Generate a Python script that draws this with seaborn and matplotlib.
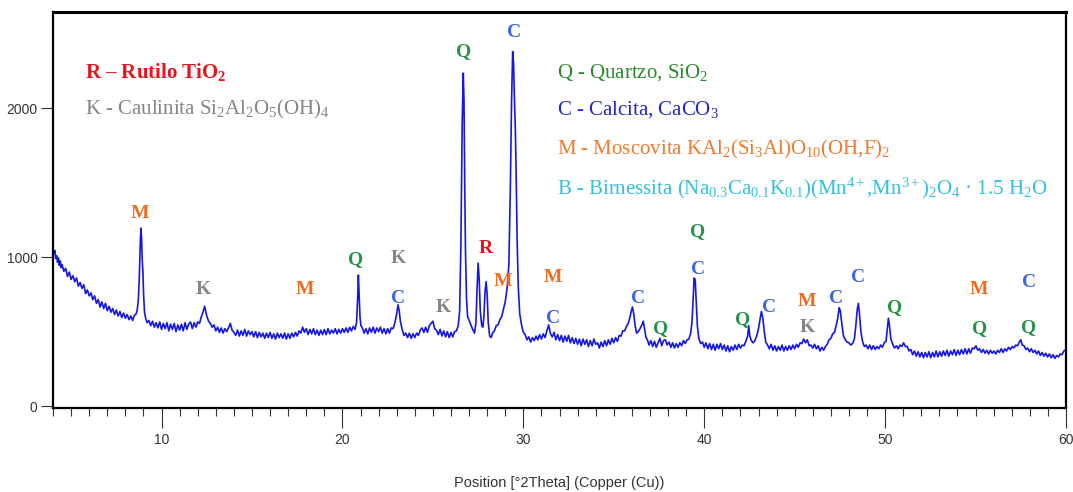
import numpy as np
import pandas as pd
import matplotlib
matplotlib.use("Agg")
import matplotlib.pyplot as plt
import seaborn as sns
from matplotlib.ticker import MultipleLocator, FixedLocator

# ---------------- data (2theta, counts) ----------------
scan_low_angle = [
    (4.0, 1060), (4.05, 1025), (4.1, 1045), (4.15, 990), (4.2, 1010), (4.25, 965), (4.3, 995),
    (4.35, 945), (4.4, 975), (4.45, 930), (4.5, 950), (4.6, 905), (4.7, 925), (4.8, 870),
    (4.9, 900), (5.0, 850), (5.1, 875), (5.2, 835), (5.3, 860), (5.4, 805), (5.5, 830),
    (5.6, 790), (5.7, 815), (5.8, 755), (5.9, 780), (6.0, 740), (6.1, 760), (6.2, 715),
    (6.3, 740), (6.4, 690), (6.5, 715), (6.6, 665), (6.7, 700), (6.8, 655), (6.9, 690),
    (7.0, 640), (7.1, 670), (7.2, 630), (7.3, 655), (7.4, 615), (7.5, 645), (7.6, 605),
    (7.7, 635), (7.8, 595), (7.9, 625), (8.0, 590), (8.1, 615), (8.2, 580), (8.3, 605),
    (8.4, 575), (8.5, 610), (8.6, 620), (8.66, 650), (8.72, 720), (8.77, 860), (8.82, 1080),
    (8.86, 1195), (8.9, 1120), (8.93, 985), (8.97, 900), (9.01, 740), (9.06, 630), (9.12, 590),
    (9.2, 560), (9.3, 575),
]

scan_9_to_21 = [
    (9.4, 540), (9.5, 570), (9.6, 530), (9.7, 560), (9.8, 525), (9.9, 565), (10.0, 515),
    (10.1, 555), (10.2, 520), (10.3, 560), (10.4, 505), (10.5, 550), (10.6, 515), (10.7, 555),
    (10.8, 500), (10.9, 545), (11.0, 510), (11.1, 550), (11.2, 505), (11.3, 560), (11.4, 515),
    (11.5, 550), (11.6, 565), (11.7, 520), (11.8, 560), (11.9, 530), (12.0, 565), (12.1, 555),
    (12.2, 600), (12.3, 635), (12.38, 670), (12.45, 630), (12.5, 605), (12.6, 570), (12.7, 555),
    (12.8, 530), (12.9, 545), (13.0, 505), (13.1, 530), (13.2, 495), (13.3, 525), (13.4, 490),
    (13.5, 520), (13.6, 500), (13.7, 525), (13.8, 555), (13.9, 510), (14.0, 495), (14.1, 475),
    (14.2, 510), (14.3, 470), (14.4, 505), (14.5, 475), (14.6, 515), (14.7, 470), (14.8, 505),
    (14.9, 480), (15.0, 500), (15.1, 465), (15.2, 500), (15.3, 460), (15.4, 495), (15.5, 465),
    (15.6, 490), (15.7, 455), (15.8, 490), (15.9, 460), (16.0, 495), (16.1, 455), (16.2, 485),
    (16.3, 450), (16.4, 490), (16.5, 460), (16.6, 485), (16.7, 455), (16.8, 490), (16.9, 450),
    (17.0, 485), (17.1, 455), (17.2, 490), (17.3, 465), (17.4, 495), (17.5, 470), (17.6, 505),
    (17.7, 490), (17.8, 530), (17.9, 495), (18.0, 520), (18.1, 480), (18.2, 515), (18.3, 485),
    (18.4, 520), (18.5, 480), (18.6, 510), (18.7, 475), (18.8, 510), (18.9, 480), (19.0, 515),
    (19.1, 480), (19.2, 520), (19.3, 485), (19.4, 510), (19.5, 490), (19.6, 520), (19.7, 485),
    (19.8, 515), (19.9, 490), (20.0, 520), (20.1, 495), (20.2, 525), (20.3, 495), (20.4, 530),
    (20.5, 505), (20.6, 535), (20.7, 515), (20.78, 560), (20.84, 720), (20.88, 880), (20.92, 760),
    (20.97, 600), (21.02, 540),
]

scan_21_to_30 = [
    (21.1, 525), (21.2, 490), (21.3, 520), (21.4, 485), (21.5, 525), (21.6, 495), (21.7, 530),
    (21.8, 490), (21.9, 525), (22.0, 500), (22.1, 530), (22.2, 490), (22.3, 520), (22.4, 485),
    (22.5, 520), (22.6, 490), (22.7, 525), (22.8, 520), (22.9, 560), (23.0, 620), (23.07, 680),
    (23.14, 640), (23.2, 570), (23.3, 515), (23.4, 475), (23.5, 490), (23.6, 460), (23.7, 490),
    (23.8, 455), (23.9, 485), (24.0, 460), (24.1, 490), (24.2, 475), (24.3, 510), (24.4, 525),
    (24.5, 495), (24.6, 530), (24.7, 495), (24.8, 540), (24.9, 555), (25.0, 570), (25.1, 520),
    (25.2, 510), (25.3, 480), (25.4, 515), (25.5, 470), (25.6, 505), (25.7, 465), (25.8, 500),
    (25.9, 460), (26.0, 495), (26.1, 465), (26.2, 500), (26.3, 505), (26.4, 540), (26.48, 640),
    (26.55, 1100), (26.62, 1900), (26.68, 2235), (26.72, 2050), (26.76, 1500), (26.8, 1050),
    (26.86, 720), (26.92, 600), (27.0, 575), (27.1, 545), (27.2, 515), (27.3, 490), (27.38, 560),
    (27.44, 780), (27.5, 960), (27.56, 850), (27.62, 640), (27.7, 540), (27.76, 530), (27.82, 600),
    (27.88, 760), (27.94, 835), (28.0, 750), (28.06, 560), (28.14, 470), (28.22, 460), (28.3, 490),
    (28.4, 505), (28.5, 540), (28.6, 545), (28.7, 580), (28.8, 600), (28.9, 650), (29.0, 700),
    (29.1, 790), (29.2, 950), (29.28, 1450), (29.35, 2050), (29.41, 2380), (29.46, 2300),
    (29.51, 2050), (29.56, 1850), (29.61, 1500), (29.66, 1100), (29.72, 800), (29.8, 620),
    (29.9, 545), (30.0, 495),
]

scan_30_to_45 = [
    (30.1, 480), (30.2, 445), (30.3, 465), (30.4, 430), (30.5, 460), (30.6, 440), (30.7, 470),
    (30.8, 445), (30.9, 480), (31.0, 450), (31.1, 485), (31.2, 460), (31.3, 505), (31.4, 545),
    (31.5, 485), (31.6, 465), (31.7, 495), (31.8, 445), (31.9, 480), (32.0, 440), (32.1, 475),
    (32.2, 430), (32.3, 470), (32.4, 435), (32.5, 475), (32.6, 425), (32.7, 460), (32.8, 420),
    (32.9, 455), (33.0, 415), (33.1, 450), (33.2, 405), (33.3, 450), (33.4, 415), (33.5, 445),
    (33.6, 400), (33.7, 440), (33.8, 405), (33.9, 450), (34.0, 415), (34.1, 425), (34.2, 390),
    (34.3, 430), (34.4, 400), (34.5, 440), (34.6, 405), (34.7, 445), (34.8, 415), (34.9, 455),
    (35.0, 425), (35.1, 460), (35.2, 435), (35.3, 475), (35.4, 470), (35.5, 505), (35.6, 505),
    (35.7, 535), (35.8, 555), (35.9, 600), (35.97, 640), (36.03, 665), (36.1, 620), (36.18, 540),
    (36.26, 490), (36.35, 500), (36.45, 520), (36.55, 545), (36.63, 570), (36.7, 520),
    (36.78, 460), (36.86, 445), (36.95, 410), (37.05, 440), (37.15, 400), (37.25, 435),
    (37.35, 395), (37.45, 425), (37.55, 455), (37.65, 405), (37.75, 440), (37.85, 445),
    (37.95, 410), (38.05, 430), (38.15, 395), (38.25, 425), (38.35, 390), (38.45, 420),
    (38.55, 395), (38.65, 425), (38.75, 405), (38.85, 440), (38.95, 420), (39.05, 445),
    (39.15, 450), (39.25, 490), (39.32, 560), (39.38, 700), (39.44, 860), (39.5, 850),
    (39.56, 700), (39.62, 540), (39.7, 455), (39.8, 420), (39.9, 430), (40.0, 395), (40.1, 425),
    (40.2, 385), (40.3, 420), (40.4, 380), (40.5, 415), (40.6, 375), (40.7, 415), (40.8, 385),
    (40.9, 420), (41.0, 380), (41.1, 410), (41.2, 370), (41.3, 405), (41.4, 365), (41.5, 400),
    (41.6, 375), (41.7, 410), (41.8, 380), (41.9, 415), (42.0, 390), (42.1, 410), (42.2, 405),
    (42.3, 435), (42.4, 470), (42.46, 540), (42.52, 470), (42.6, 440), (42.7, 425), (42.8, 440),
    (42.9, 470), (43.0, 520), (43.08, 580), (43.16, 635), (43.24, 590), (43.32, 500), (43.4, 430),
    (43.5, 410), (43.6, 385), (43.7, 415), (43.8, 375), (43.9, 405), (44.0, 370), (44.1, 400),
    (44.2, 375), (44.3, 410), (44.4, 370), (44.5, 400), (44.6, 375), (44.7, 405), (44.8, 380),
    (44.9, 410),
]

scan_45_to_60 = [
    (45.0, 385), (45.1, 415), (45.2, 395), (45.3, 425), (45.4, 420), (45.5, 450), (45.6, 425),
    (45.7, 445), (45.8, 405), (45.9, 410), (46.0, 390), (46.1, 415), (46.2, 385), (46.3, 405),
    (46.4, 370), (46.5, 395), (46.6, 375), (46.7, 400), (46.8, 415), (46.9, 445), (47.0, 455),
    (47.1, 485), (47.2, 495), (47.3, 545), (47.38, 590), (47.46, 660), (47.52, 640), (47.6, 560),
    (47.7, 470), (47.8, 445), (47.9, 430), (48.0, 425), (48.1, 410), (48.2, 420), (48.3, 450),
    (48.38, 540), (48.46, 650), (48.52, 690), (48.58, 620), (48.66, 500), (48.75, 435),
    (48.85, 400), (48.95, 410), (49.05, 385), (49.15, 410), (49.25, 380), (49.35, 405),
    (49.45, 380), (49.55, 400), (49.65, 385), (49.75, 410), (49.85, 395), (49.95, 425),
    (50.05, 435), (50.12, 520), (50.18, 590), (50.24, 540), (50.32, 450), (50.42, 415),
    (50.52, 390), (50.62, 405), (50.72, 385), (50.82, 410), (50.92, 400), (51.02, 425),
    (51.12, 400), (51.22, 400), (51.32, 370), (51.42, 380), (51.52, 345), (51.62, 370),
    (51.72, 335), (51.82, 365), (51.92, 330), (52.02, 360), (52.12, 325), (52.22, 360),
    (52.32, 330), (52.42, 365), (52.52, 325), (52.62, 360), (52.72, 330), (52.82, 370),
    (52.92, 330), (53.02, 365), (53.12, 335), (53.22, 370), (53.32, 340), (53.42, 375),
    (53.52, 335), (53.62, 370), (53.72, 345), (53.82, 380), (53.92, 340), (54.02, 375),
    (54.12, 345), (54.22, 380), (54.32, 350), (54.42, 385), (54.52, 350), (54.62, 385),
    (54.72, 355), (54.82, 390), (54.92, 385), (55.02, 405), (55.12, 375), (55.22, 385),
    (55.32, 360), (55.42, 380), (55.52, 355), (55.62, 375), (55.72, 350), (55.82, 375),
    (55.92, 355), (56.02, 370), (56.12, 350), (56.22, 375), (56.32, 360), (56.42, 385),
    (56.52, 360), (56.62, 385), (56.72, 370), (56.82, 395), (56.92, 380), (57.02, 400),
    (57.12, 390), (57.22, 410), (57.32, 405), (57.42, 430), (57.5, 445), (57.58, 410),
    (57.68, 405), (57.78, 380), (57.88, 390), (57.98, 365), (58.08, 385), (58.18, 360),
    (58.28, 375), (58.38, 350), (58.48, 370), (58.58, 340), (58.68, 360), (58.78, 335),
    (58.88, 355), (58.98, 330), (59.08, 350), (59.18, 325), (59.28, 345), (59.38, 320),
    (59.48, 340), (59.58, 330), (59.68, 350), (59.78, 345), (59.88, 370), (60.0, 380),
]

# peak labels: letter, position (2theta), height (counts)
label_text = ["M", "K", "M", "Q", "K", "C", "K", "Q", "C", "R", "M", "M", "C",
              "C", "Q", "Q", "C", "Q", "C", "M", "K", "C", "C", "Q", "M", "Q", "C", "Q"]
label_x = [8.78, 12.32, 17.9, 20.75, 23.1, 23.1, 25.55, 26.72, 29.5, 27.9, 28.85, 31.65, 31.65,
           36.35, 37.6, 39.65, 39.65, 42.1, 43.6, 45.7, 45.7, 47.3, 48.5, 50.5, 55.2, 55.2, 57.95, 57.95]
label_y = [1295, 785, 780, 985, 990, 725, 660, 2380, 2510, 1055, 835, 860, 590,
           725, 520, 1175, 920, 580, 660, 705, 525, 725, 860, 660, 780, 520, 830, 525]

phase_colors = {"Q": "#27914a", "C": "#3f63e8", "M": "#f26a1e", "K": "#858585", "R": "#e8141c"}

x_ticks_major = [10, 20, 30, 40, 50, 60]
y_ticks = [0, 1000, 2000]
x_label = "Position [°2Theta] (Copper (Cu))"

legend_left = [
    (r"R – Rutilo TiO$_\mathbf{2}$", "#e8141c", "bold", 0.848),
    (r"K - Caulinita Si$_2$Al$_2$O$_5$(OH)$_4$", "#858585", "normal", 0.753),
]
legend_right = [
    (r"Q - Quartzo, SiO$_2$", "#2a8a2a", 0.848),
    (r"C - Calcita, CaCO$_3$", "#2424cc", 0.753),
    (r"M - Moscovita KAl$_2$(Si$_3$Al)O$_{10}$(OH,F)$_2$", "#f07a30", 0.652),
    (r"B - Birnessita (Na$_{0.3}$Ca$_{0.1}$K$_{0.1}$)(Mn$^{4+}$,Mn$^{3+}$)$_2$O$_4$ · 1.5 H$_2$O",
     "#33c0e0", 0.555),
]

# ---------------- build table ----------------
rows = scan_low_angle + scan_9_to_21 + scan_21_to_30 + scan_30_to_45 + scan_45_to_60
df = pd.DataFrame(rows, columns=["two_theta", "counts"])

sns.set_theme(style="white")
plt.rcParams["font.family"] = ["Liberation Sans Narrow", "Liberation Sans", "DejaVu Sans"]
plt.rcParams["mathtext.fontset"] = "custom"
plt.rcParams["mathtext.rm"] = "Liberation Serif"
plt.rcParams["mathtext.it"] = "Liberation Serif:italic"
plt.rcParams["mathtext.bf"] = "Liberation Serif:bold"

fig = plt.figure(figsize=(10.73, 4.92), dpi=100)
ax = fig.add_axes([0.0494, 0.170, 0.9441, 0.8055])

sns.lineplot(data=df, x="two_theta", y="counts", ax=ax, color="#1616e6",
             linewidth=1.2, estimator=None, sort=False)

ax.set_xlim(4, 60)
ax.set_ylim(-15, 2645)

ax.xaxis.set_major_locator(FixedLocator(x_ticks_major))
ax.xaxis.set_minor_locator(MultipleLocator(1))
ax.yaxis.set_major_locator(FixedLocator(y_ticks))
ax.tick_params(axis="x", which="major", direction="out", length=14.5, width=0.8,
               color="#333333", labelsize=10, pad=3, bottom=True)
ax.tick_params(axis="x", which="minor", direction="out", length=5.5, width=0.8,
               color="#333333", bottom=True)
ax.tick_params(axis="y", which="major", direction="out", length=9, width=0.8,
               color="#333333", labelsize=10, pad=2, left=True)
for lab in ax.get_xticklabels() + ax.get_yticklabels():
    lab.set_color("#333333")

ax.set_xlabel(x_label, fontsize=10.5, color="#333333", labelpad=21)
ax.set_ylabel("")

for side, lw in [("left", 1.6), ("bottom", 1.6), ("right", 1.6), ("top", 2.2)]:
    ax.spines[side].set_visible(True)
    ax.spines[side].set_color("black")
    ax.spines[side].set_linewidth(lw)

serif = ["Liberation Serif", "DejaVu Serif"]
for t, x, y in zip(label_text, label_x, label_y):
    ax.text(x, y, t, color=phase_colors[t], fontsize=14, fontweight="bold",
            family=serif, ha="center", va="center")

for txt, col, weight, ypos in legend_left:
    ax.text(0.0316, ypos, txt, color=col, fontsize=15, fontweight=weight, family=serif,
            ha="left", va="center", transform=ax.transAxes)
for txt, col, ypos in legend_right:
    ax.text(0.498, ypos, txt, color=col, fontsize=15, family=serif,
            ha="left", va="center", transform=ax.transAxes)

fig.savefig("out.png", dpi=100)
